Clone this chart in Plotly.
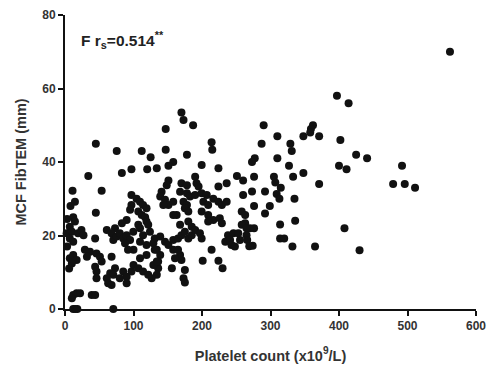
import plotly.graph_objects as go

# Platelet count (x10^9/L)
platelet = [
    562, 397, 414, 362, 359, 358, 348, 371, 402, 425, 441, 400, 411, 492, 348, 371, 479, 496, 511, 408, 365, 430,
    290, 310, 287, 329, 331, 277, 273, 310, 327, 276, 305, 333, 307, 315, 273, 292, 309, 313, 335, 276, 299, 292,
    336, 314, 276, 270, 314, 320, 274, 332,
    170, 173, 187, 147, 214, 215, 147, 178, 158, 151, 134, 199.5, 224, 251, 260, 151, 148.5, 141, 139, 146, 151,
    158, 143.5, 190, 170, 178, 192, 195, 224, 236, 168, 178, 182.5, 190, 199.5, 207, 173, 178, 202, 209, 216.5,
    224, 229, 236, 260, 258, 263, 163, 175, 180, 199.5, 209, 216.5, 226, 229, 209, 168, 180, 185, 263,
    158, 258, 265, 238, 246, 253, 234, 241, 265, 266, 269, 243, 248, 214, 201, 224, 230, 175, 173, 175, 156, 158,
    168, 170,
    136, 134, 131, 139, 146, 151, 158, 165, 170, 175, 180, 185, 190, 197, 199.5, 165, 160.6, 134, 139, 136, 255.5,
    45, 75.5, 112, 125, 83, 97, 120, 34, 11, 53.5, 14.5, 45, 12, 14.5, 7, 97, 104.5, 109.5, 114, 119, 97, 95, 107,
    112, 117, 119, 121.5, 107, 90, 83, 73, 61,
    2.4, 10, 7, 12, 19, 24, 27, 44, 68, 70.5, 75.5, 80, 85, 90, 95, 87.6, 99.7, 109.5, 114, 124, 109.5, 119, 129,
    131, 119, 109.5, 100, 92, 29, 36.5, 32, 7, 12, 17, 46, 51, 53.5, 68, 73, 66, 70.5, 44, 46, 46, 61, 63, 68, 85,
    90, 97, 90, 80, 100, 107, 114, 121.5, 126.5, 129, 134, 12, 17, 22, 10, 39, 44, 12, 15, 18, 70.5,
    3, 8, 3, 10, 6,
]

# MCF FibTEM (mm)
mcf = [
    70, 58, 56, 50, 49, 48, 47, 47, 46, 42, 41, 39, 38, 39, 37, 34, 34, 34, 33, 22, 17, 16,
    50, 47, 45, 45, 43, 41, 40, 41, 39, 36, 36, 36, 34.4, 33, 32, 32, 31.3, 30, 30, 28, 28, 26,
    24, 23, 22, 22, 19.2, 19.2, 17.2, 17,
    53.5, 51.4, 50, 49, 45.4, 43.3, 43.3, 42, 40, 39, 38.3, 39.2, 38.3, 36.2, 35, 35, 33.7, 31.9, 30.6, 29.7, 28.3,
    29.2, 28.3, 36, 34.2, 33.7, 34.2, 33.3, 33.3, 34.2, 31.9, 31.5, 30.6, 31, 31.5, 31, 29.2, 28.3, 29.2, 28.3, 30,
    29.2, 28.3, 29.2, 31, 26.5, 25.6, 25.6, 27.4, 26.5, 26.5, 25.6, 24.2, 24.7, 23.3, 23.8, 22.9, 23.8, 22.4, 23.3,
    25.6, 22.9, 22, 20.1, 20.6, 20.6, 18.3, 18.8, 20.1, 18.8, 17.1, 17.4, 17, 16.1, 13.1, 13.1, 11.1, 10.6, 8.4, 7.2, 11.1, 16.1,
    14.7, 13.3,
    11.1, 9.3, 19.2, 19.7, 18.3, 17.4, 18.8, 19.2, 20.1, 21, 19.2, 20.1, 21.5, 20.6, 19.2, 16.1, 13.8, 16.1, 14.7, 12.9, 18.8,
    45, 43, 43, 41.3, 37, 38, 38, 36.2, 32.2, 32.2, 29.2, 26.2, 25, 23.8, 22.4, 31, 30, 29.2, 28.3, 27.4, 28.3, 27, 26.5,
    25.6, 25, 23.8, 22.9, 22.9, 24.2, 23.3, 22, 21.5,
    20.6, 21, 19.2, 18.3, 20.6, 21.5, 20.1, 19.2, 20.6, 18.8, 19.7, 20.6, 19.2, 20.1, 18.8, 17.9, 21, 22, 20.1, 21, 18.3, 17.4, 17.9,
    16.1, 14.7, 13.8, 16.1, 16.1, 16.1, 15.6, 14.2, 13.8, 14.7, 13.3, 15.1, 14.2, 12.9, 14.2, 11.1, 9.7, 9.3, 11.5, 10.2, 8.4, 8.4, 7, 6.5, 10.2,
    8.8, 10.2, 7, 8.4, 12, 11.1, 10.2, 9.3, 8.4, 12, 12.9, 3.8, 4.3, 4.3, 2.9, 3.8, 3.8, 0, 0, 0, 0,
    24.5, 28, 17, 12.4, 11,
]

x_ticks = [0, 100, 200, 300, 400, 500, 600]
y_ticks = [0, 20, 40, 60, 80]

fig = go.Figure()
fig.add_trace(go.Scatter(
    x=platelet, y=mcf, mode="markers",
    marker=dict(color="#111111", size=8, line=dict(width=0)),
    cliponaxis=False, showlegend=False,
))

axis_font = dict(family="Liberation Sans, Arial, sans-serif", size=12, color="#333333")
title_font = dict(family="Liberation Sans, Arial, sans-serif", size=14.5, color="#333333")

fig.update_layout(
    width=487, height=371,
    margin=dict(l=65, r=11, t=15, b=62),
    paper_bgcolor="white", plot_bgcolor="white",
    xaxis=dict(
        range=[0, 600], tickvals=x_ticks, ticktext=[f"<b>{v}</b>" for v in x_ticks],
        showgrid=False, zeroline=False, showline=True, linecolor="#111111", linewidth=2,
        ticks="outside", ticklen=5, tickwidth=2, tickcolor="#111111",
        tickfont=axis_font, automargin=False,
        title=dict(text="<b>Platelet count (x10<sup>9</sup>/L)</b>", font=title_font, standoff=18),
    ),
    yaxis=dict(
        range=[0, 80], tickvals=y_ticks, ticktext=[f"<b>{v}</b>" for v in y_ticks],
        showgrid=False, zeroline=False, showline=True, linecolor="#111111", linewidth=2,
        ticks="outside", ticklen=5, tickwidth=2, tickcolor="#111111",
        tickfont=axis_font, automargin=False,
        title=dict(text="<b>MCF FibTEM (mm)</b>", font=title_font, standoff=12),
    ),
    annotations=[dict(
        x=0.035, y=0.915, xref="paper", yref="paper", xanchor="left", yanchor="middle",
        text="<b>F r<sub>s</sub>=0.514<sup>**</sup></b>", showarrow=False,
        font=dict(family="Liberation Sans, Arial, sans-serif", size=15.5, color="#222222"),
    )],
)

fig.write_html("out.html")
